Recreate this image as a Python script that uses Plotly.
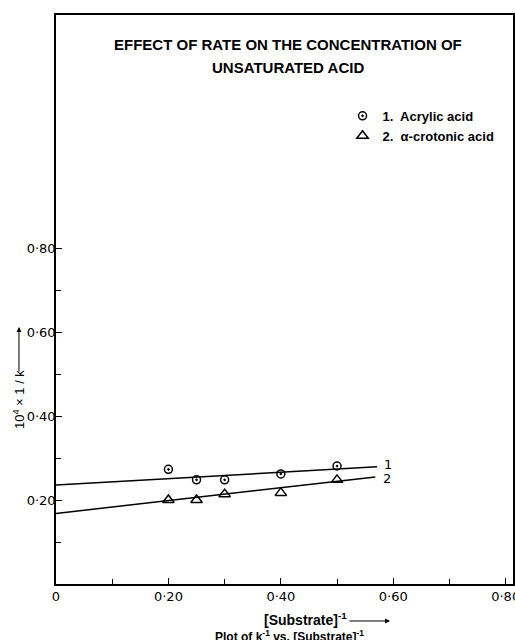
import plotly.graph_objects as go

# Data
acrylic_x = [0.20, 0.25, 0.30, 0.40, 0.50]
acrylic_y = [0.273, 0.248, 0.248, 0.262, 0.281]
crotonic_x = [0.20, 0.25, 0.30, 0.40, 0.50]
crotonic_y = [0.200, 0.200, 0.214, 0.217, 0.248]
fit1_x = [0.0, 0.571]
fit1_y = [0.236, 0.279]
fit2_x = [0.0, 0.568]
fit2_y = [0.168, 0.255]
x_tickvals = [0, 0.2, 0.4, 0.6, 0.8]
x_ticktext = ["0", "0·20", "0·40", "0·60", "0·80"]
y_tickvals = [0.2, 0.4, 0.6, 0.8]
y_ticktext = ["0·20", "0·40", "0·60", "0·80"]

hand = "DejaVu Sans"
bold = "Liberation Sans"

fig = go.Figure()
fig.add_trace(go.Scatter(x=fit1_x, y=fit1_y, mode="lines",
                         line=dict(color="black", width=1.5), showlegend=False))
fig.add_trace(go.Scatter(x=fit2_x, y=fit2_y, mode="lines",
                         line=dict(color="black", width=1.5), showlegend=False))
fig.add_trace(go.Scatter(x=acrylic_x, y=acrylic_y, mode="markers",
                         name="<b>1.  Acrylic acid</b>",
                         marker=dict(symbol="circle-open-dot", size=8, color="black",
                                     line=dict(width=1.5))))
fig.add_trace(go.Scatter(x=crotonic_x, y=crotonic_y, mode="markers",
                         name="<b>2.  α-crotonic acid</b>",
                         marker=dict(symbol="triangle-up-open", size=10, color="black",
                                     line=dict(width=1.5))))

annotations = [
    dict(text="<b>EFFECT OF RATE ON THE CONCENTRATION OF</b>", x=0.508, y=0.949,
         xref="paper", yref="paper", showarrow=False,
         font=dict(family=bold, size=15, color="black"), xanchor="center", yanchor="middle"),
    dict(text="<b>UNSATURATED ACID</b>", x=0.508, y=0.907,
         xref="paper", yref="paper", showarrow=False,
         font=dict(family=bold, size=15, color="black"), xanchor="center", yanchor="middle"),
    dict(text="1", x=0.591, y=0.285, xref="x", yref="y", showarrow=False,
         font=dict(family=hand, size=13, color="black")),
    dict(text="2", x=0.589, y=0.252, xref="x", yref="y", showarrow=False,
         font=dict(family=hand, size=13, color="black")),
    # y-axis title and its arrow
    dict(text="10<sup>4</sup> × 1 / k", x=-0.081, y=0.325, xref="paper", yref="paper",
         showarrow=False, textangle=-90, font=dict(family=bold, size=13, color="black"),
         xanchor="center", yanchor="middle"),
    dict(text="", x=-0.081, y=0.4517, xref="paper", yref="paper", showarrow=True,
         ax=0, ay=46, arrowhead=2, arrowsize=1, arrowwidth=1, arrowcolor="black"),
    # x-axis title and its arrow
    dict(text="<b>[Substrate]<sup>-1</sup></b>", x=0.545, y=-0.0615, xref="paper",
         yref="paper", showarrow=False, font=dict(family=bold, size=14, color="black"),
         xanchor="center", yanchor="middle"),
    dict(text="", x=0.731, y=-0.065, xref="paper", yref="paper", showarrow=True,
         ax=-42, ay=0, arrowhead=2, arrowsize=1, arrowwidth=1, arrowcolor="black"),
    dict(text="<b>Plot of k<sup>-1</sup> vs. [Substrate]<sup>-1</sup></b>", x=0.512, y=-0.0914,
         xref="paper", yref="paper", showarrow=False,
         font=dict(family=bold, size=12, color="black"), xanchor="center", yanchor="middle"),
]

fig.update_layout(
    width=515, height=640,
    margin=dict(l=56, r=2, t=15, b=56),
    paper_bgcolor="white", plot_bgcolor="white",
    showlegend=True,
    legend=dict(x=0.627, y=0.849, xanchor="left", yanchor="top",
                font=dict(family=bold, size=13, color="black"),
                bgcolor="rgba(0,0,0,0)", itemwidth=30, tracegroupgap=0),
    annotations=annotations,
    xaxis=dict(range=[0, 0.813], tickvals=x_tickvals, ticktext=x_ticktext,
               ticks="inside", ticklen=6, tickwidth=1.2, tickcolor="black",
               minor=dict(tickvals=[0.1, 0.3, 0.5, 0.7], ticks="inside", ticklen=5,
                          tickcolor="black", tickwidth=1.2),
               showgrid=False, zeroline=False, showline=True, linecolor="black",
               linewidth=1.5, mirror=True, ticklabeloverflow="allow", automargin=False,
               tickfont=dict(family=hand, size=13, color="black")),
    yaxis=dict(range=[0, 1.355], tickvals=y_tickvals, ticktext=y_ticktext,
               ticks="inside", ticklen=6, tickwidth=1.2, tickcolor="black",
               minor=dict(tickvals=[0.1, 0.3, 0.5, 0.7], ticks="inside", ticklen=5,
                          tickcolor="black", tickwidth=1.2),
               showgrid=False, zeroline=False, showline=True, linecolor="black",
               linewidth=1.5, mirror=True, automargin=False, ticklabelstandoff=-4,
               tickfont=dict(family=hand, size=13, color="black")),
)

fig.write_html("out.html", config={"displayModeBar": False},
               post_script="document.body.style.margin='0';document.body.style.overflow='hidden';")
